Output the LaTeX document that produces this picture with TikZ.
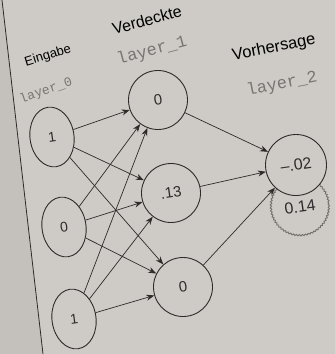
\documentclass[tikz,border=0pt]{standalone}
\usepackage{fontspec}
\setsansfont{Liberation Sans}
\setmonofont{Liberation Mono}
\usetikzlibrary{shapes.geometric,arrows.meta,decorations.pathmorphing}
\definecolor{paper}{RGB}{206,203,198}
\definecolor{paperdark}{RGB}{196,193,188}
\definecolor{ink}{RGB}{45,43,42}
\definecolor{lbl}{RGB}{120,118,115}
\definecolor{ghostc}{RGB}{115,112,108}
\begin{document}
\begin{tikzpicture}[x=1pt,y=-1pt,
  inp/.style={ellipse,draw=ink,line width=0.9pt,fill=paper,minimum width=44pt,minimum height=60pt,inner sep=0pt,font=\sffamily\fontsize{14}{14}\selectfont,text=ink,rotate=8},
  hid/.style={circle,draw=ink,line width=0.9pt,fill=paper,minimum size=59pt,inner sep=0pt,font=\sffamily\fontsize{15}{15}\selectfont,text=ink,rotate=8},
  outn/.style={circle,draw=ink,line width=0.9pt,fill=paper,minimum size=61pt,inner sep=0pt,font=\sffamily\fontsize{16}{16}\selectfont,text=ink,rotate=8},
  ghost/.style={circle,draw=ghostc,line width=0.9pt,fill=paper,minimum size=58pt,inner sep=0pt,font=\sffamily\fontsize{16}{16}\selectfont,text=ink,rotate=8,
    decorate,decoration={snake,amplitude=0.7pt,segment length=3pt}},
  head/.style={font=\sffamily\fontsize{#1}{#1}\selectfont,text=black},
  code/.style={font=\ttfamily\fontsize{#1}{#1}\selectfont,text=lbl},
  edge/.style={draw=ink,line width=0.7pt,-{Stealth[length=8pt,width=6pt]}}]
\useasboundingbox (0,0) rectangle (335,354);
\fill[paper] (0,0) rectangle (335,354);
\fill[paperdark] (0,0) -- (2,0) -- (43,354) -- (0,354) -- cycle;
\coordinate (pa) at (2,0);
\coordinate (pb) at (43,354);
\draw[ink,line width=0.8pt] (pa) -- (pb);

\node[head=13,rotate=17] (h0) at (48,56) {Eingabe};
\node[code=13,rotate=19] (c0) at (46,91) {layer\_0};
\node[head=16,rotate=15] (h1) at (147,20) {Verdeckte};
\node[code=17,rotate=15] (c1) at (152,51) {layer\_1};
\node[head=16.5,rotate=11] (h2) at (274,48) {Vorhersage};
\node[code=17,rotate=11] (c2) at (282,84) {layer\_2};

\node[inp] (i0) at (52,137) {1};
\node[inp] (i1) at (64,227) {0};
\node[inp] (i2) at (74,319) {1};

\node[hid] (n0) at (158,100) {0};
\node[hid] (n1) at (171,193) {.13};
\node[hid] (n2) at (183,287) {0};

\node[ghost] (g) at (300,207) {0.14};
\node[outn] (o) at (296,165) {--.02};

\foreach \a in {i0,i1,i2}
  \foreach \b in {n0,n1,n2}
    \draw[edge] (\a) -- (\b);
\foreach \b in {n0,n1,n2}
  \draw[edge] (\b) -- (o);
\end{tikzpicture}
\end{document}
